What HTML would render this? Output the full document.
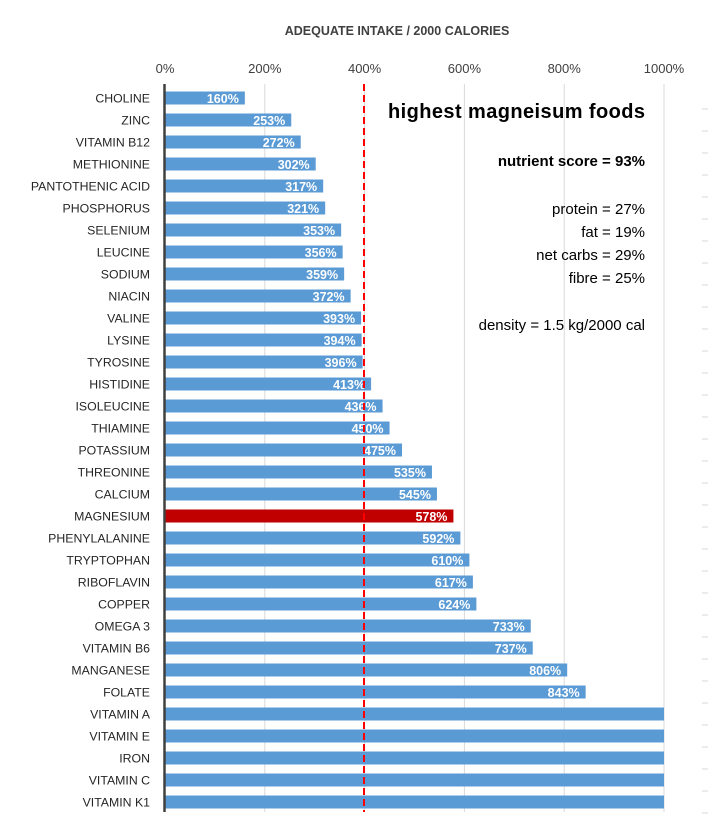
<!DOCTYPE html>
<html><head><meta charset="utf-8">
<style>
html,body{margin:0;padding:0;background:#fff;}
svg{display:block;font-family:"Liberation Sans",Arial,sans-serif;}
</style></head>
<body>
<svg id="chart" width="710" height="831" viewBox="0 0 710 831">
<text x="397" y="35" text-anchor="middle" font-size="12.5" font-weight="bold" fill="#404040">ADEQUATE INTAKE / 2000 CALORIES</text>
<g id="grid"></g>
<g id="bars"></g>
<line x1="364" y1="84" x2="364" y2="812" stroke="#ff0000" stroke-width="2" stroke-dasharray="7,4"/>
<line x1="164.5" y1="84" x2="164.5" y2="812" stroke="#404040" stroke-width="2.5"/>
<g font-size="15" fill="#000" text-anchor="end">
<text x="645" y="118" font-size="20" font-weight="bold" textLength="257">highest magneisum foods</text>
<text x="645" y="166" font-weight="bold">nutrient score = 93%</text>
<text x="645" y="214">protein = 27%</text>
<text x="645" y="237">fat = 19%</text>
<text x="645" y="260">net carbs = 29%</text>
<text x="645" y="283">fibre = 25%</text>
<text x="645" y="330">density = 1.5 kg/2000 cal</text>
</g>
</svg>
<script>
const categories=["CHOLINE","ZINC","VITAMIN B12","METHIONINE","PANTOTHENIC ACID","PHOSPHORUS","SELENIUM","LEUCINE","SODIUM","NIACIN","VALINE","LYSINE","TYROSINE","HISTIDINE","ISOLEUCINE","THIAMINE","POTASSIUM","THREONINE","CALCIUM","MAGNESIUM","PHENYLALANINE","TRYPTOPHAN","RIBOFLAVIN","COPPER","OMEGA 3","VITAMIN B6","MANGANESE","FOLATE","VITAMIN A","VITAMIN E","IRON","VITAMIN C","VITAMIN K1"];
const values=[160,253,272,302,317,321,353,356,359,372,393,394,396,413,436,450,475,535,545,578,592,610,617,624,733,737,806,843,1000,1000,1000,1000,1000];
const ticks=[0,200,400,600,800,1000];
const highlight="MAGNESIUM";
const NS="http://www.w3.org/2000/svg";
const x0=165,x1=664,y0=98,step=22;
const xs=v=>x0+(Math.min(v,1000)/1000)*(x1-x0);
const ys=i=>y0+i*step;
function mk(t,a,p){const e=document.createElementNS(NS,t);for(const k in a)e.setAttribute(k,a[k]);p.appendChild(e);return e;}
const grid=document.getElementById('grid'),bars=document.getElementById('bars'),svg=document.getElementById('chart');
ticks.forEach(t=>{
  if(t>0){const l=mk('line',{x1:xs(t),x2:xs(t),y1:84,y2:812,stroke:'#d9d9d9','stroke-width':1},grid);
  
  }
  const tx=mk('text',{x:xs(t),y:73,'text-anchor':'middle','font-size':13,fill:'#404040'},grid);
  tx.textContent=t+'%';
  
  
});
categories.forEach((c,i)=>{
  const y=ys(i),v=values[i];
  const lab=mk('text',{x:150,y:y+4.5,'text-anchor':'end','font-size':12.3,fill:'#262626'},svg);
  lab.textContent=c;
  
  
  const r=mk('rect',{x:x0,y:y-6.5,width:xs(v)-x0,height:13,fill:c===highlight?'#c00000':'#5b9bd5'},bars);
  
  
  const tk=mk('line',{x1:702,x2:708,y1:y+11,y2:y+11,stroke:'#d9d9d9','stroke-width':1},grid);
  
  
  if(v<1000){
    const t=mk('text',{x:xs(v)-6,y:y+5,'text-anchor':'end','font-size':12.5,'font-weight':'bold',fill:'#fff'},bars);
    t.textContent=v+'%';
    
    
  }
});
</script>
</body></html>
